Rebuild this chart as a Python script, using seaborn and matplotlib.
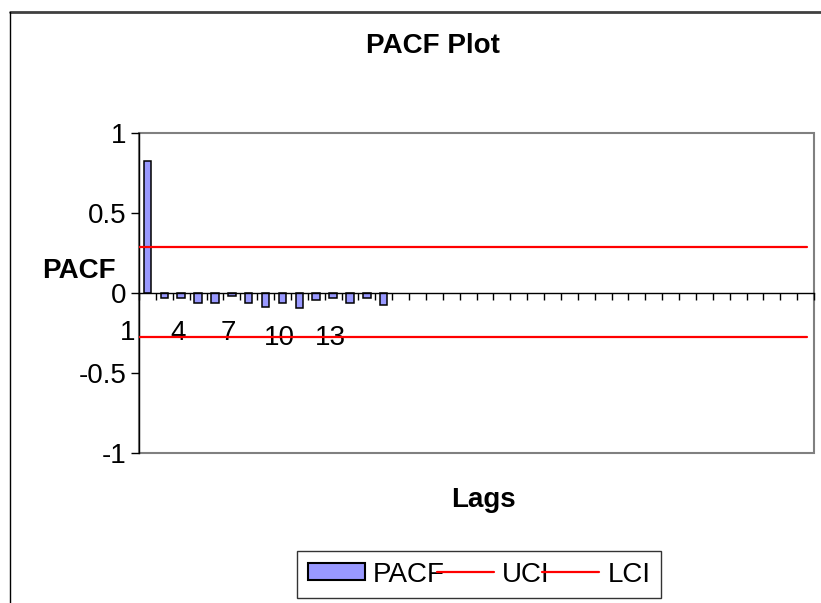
import numpy as np
import pandas as pd
import matplotlib
matplotlib.use("Agg")
import matplotlib.pyplot as plt
from matplotlib.lines import Line2D
from matplotlib.patches import Patch, Rectangle
import seaborn as sns

# ---- data ----
lags = list(range(1, 16))
pacf = [0.825, -0.031, -0.031, -0.06, -0.06, -0.019, -0.06, -0.09,
        -0.06, -0.092, -0.046, -0.031, -0.0625, -0.031, -0.073]
all_lags = list(range(1, 41))
uci = 0.29
lci = -0.275
label_lags = [1, 4, 7, 10, 13]
y_ticks = [-1, -0.5, 0, 0.5, 1]
y_tick_labels = ["-1", "-0.5", "0", "0.5", "1"]

sns.set_style("white")
plt.rcParams["font.family"] = ["Liberation Sans", "DejaVu Sans"]
plt.rcParams["text.color"] = "black"
plt.rcParams["axes.labelcolor"] = "black"
plt.rcParams["xtick.color"] = "black"
plt.rcParams["ytick.color"] = "black"

W, H = 821, 603
fig = plt.figure(figsize=(W / 100, H / 100), dpi=100)
ax = fig.add_axes([139 / W, 1 - 453 / H, 675 / W, 320 / H])

BAR = "#9999FF"
df = pd.DataFrame({"Lag": lags, "PACF": pacf})
sns.barplot(data=df, x="Lag", y="PACF", order=all_lags, color=BAR,
            saturation=1, edgecolor="black", linewidth=1.1, width=0.44, ax=ax)

ax.axhline(uci, xmin=0, xmax=0.99, color="#FF0000", lw=1.6, zorder=5)
ax.axhline(lci, xmin=0, xmax=0.99, color="#FF0000", lw=1.6, zorder=5)

ax.set_xlim(-0.5, len(all_lags) - 0.5)
ax.set_ylim(-1, 1)
ax.set_xlabel("")
ax.set_ylabel("")

# spines / plot area
for s in ["top", "right"]:
    ax.spines[s].set_visible(False)
ax.spines["bottom"].set_position(("data", 0))
ax.spines["bottom"].set_color("black")
ax.spines["bottom"].set_linewidth(1.0)
ax.spines["left"].set_color("black")
ax.spines["left"].set_linewidth(1.0)
ax.add_patch(Rectangle((0, 0), 1, 1, transform=ax.transAxes, fill=False,
                       edgecolor="#808080", lw=1.5, zorder=0, clip_on=False))

ax.set_xticks(np.arange(-0.5, len(all_lags), 1))
ax.set_xticklabels([])
ax.tick_params(axis="x", direction="out", length=5, width=1, color="black",
               labelbottom=False, bottom=True)
ax.set_yticks(y_ticks)
ax.set_yticklabels(y_tick_labels, fontsize=20, color="black")
ax.tick_params(axis="y", direction="out", length=6, width=1, color="black",
               pad=3, left=True)

# category labels (Excel-style, offset left of their bars)
for lg in label_lags:
    pos = all_lags.index(lg) - 1.18
    dy = -5 if len(str(lg)) > 1 else 0
    ax.annotate(str(lg), xy=(pos, 0), xycoords="data",
                xytext=(0, -47 + dy), textcoords="offset pixels",
                ha="center", va="baseline", fontsize=20, color="black",
                annotation_clip=False)

# texts
fig.text(433 / W, 1 - 53 / H, "PACF Plot", ha="center", va="baseline",
         fontsize=20, fontweight="bold", color="black")
fig.text(483 / W, 1 - 507 / H, "Lags", ha="center", va="baseline",
         fontsize=20, fontweight="bold", color="black")
fig.text(42 / W, 1 - 278 / H, "PACF", ha="left", va="baseline",
         fontsize=20, fontweight="bold", color="black")

# legend
handles = [Patch(facecolor=BAR, edgecolor="black", linewidth=1.5),
           Line2D([0], [0], color="#FF0000", lw=1.6),
           Line2D([0], [0], color="#FF0000", lw=1.6)]
leg = ax.legend(handles, ["PACF", "UCI", "LCI"], loc="upper left",
                bbox_to_anchor=(297 / W, 1 - 551 / H),
                bbox_transform=fig.transFigure, ncol=3, fontsize=20,
                frameon=True, fancybox=False, edgecolor="black",
                handlelength=2.05, handleheight=0.55, handletextpad=0.3,
                columnspacing=-0.28, borderpad=0.38, borderaxespad=0)
leg.get_frame().set_linewidth(1.0)
for t in leg.get_texts():
    t.set_color("black")

# chart-area border
fig.add_artist(Line2D([10 / W, 1], [1 - 12 / H, 1 - 12 / H], color="#404040",
                      lw=2, transform=fig.transFigure))
fig.add_artist(Line2D([10 / W, 10 / W], [0, 1 - 12 / H], color="black",
                      lw=1, transform=fig.transFigure))

fig.savefig("out.png", dpi=100)
